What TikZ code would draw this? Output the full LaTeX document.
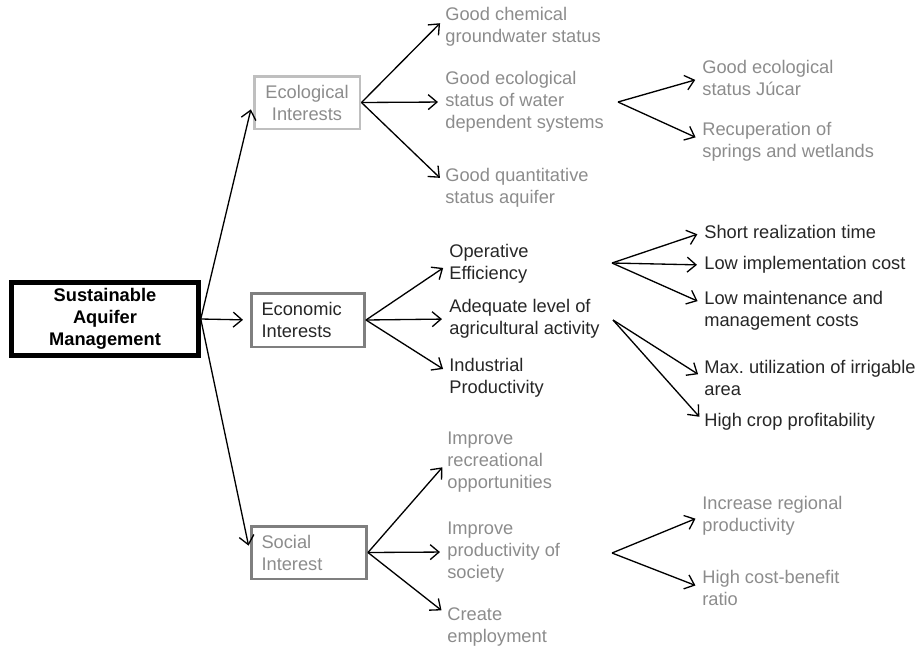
\documentclass[tikz,border=0pt]{standalone}
\usepackage{fontspec}
\setmainfont{Liberation Sans}
\usepackage{xcolor}
\usepackage{tikz}
\usetikzlibrary{positioning,arrows.meta,calc}
\definecolor{pale}{HTML}{8C8C8C}
\definecolor{dark}{HTML}{262626}
\definecolor{lframe}{HTML}{BFBFBF}
\definecolor{mframe}{HTML}{7F7F7F}
\tikzset{
  txt/.style={anchor=west,inner sep=0pt,align=left,font=\fontsize{10.4}{12.5}\selectfont},
  gtxt/.style={txt,text=pale},
  btxt/.style={txt,text=dark},
  crit/.style={draw,font=\fontsize{10.4}{12.5}\selectfont},
  arr/.style={-{Straight Barb[length=5pt,width=8.5pt]},line width=0.75pt,black,shorten >=4pt},
}
\begin{document}
\begin{tikzpicture}[x=0.02cm,y=-0.02cm]
\useasboundingbox (0,0) rectangle (915,649);
\node[crit,line width=2.6pt,minimum width=3.74cm,minimum height=1.42cm,align=center,font=\fontsize{10.4}{12.5}\selectfont\bfseries] (sam) at (105,319) {Sustainable\\Aquifer\\Management};
\node[crit,draw=lframe,text=pale,line width=1.7pt,minimum width=2.12cm,minimum height=1.06cm,align=center] (eco) at (307,102.5) {Ecological\\Interests};
\node[crit,draw=mframe,text=dark,line width=1.7pt,text width=1.86cm,inner xsep=0.2cm,minimum height=1.08cm,align=left] (econ) at (308,320) {Economic\\Interests};
\node[crit,draw=mframe,text=pale,line width=1.7pt,text width=1.9cm,inner xsep=0.2cm,minimum height=1.06cm,align=left] (soc) at (309,552.5) {Social\\Interest};

\node[gtxt] (chem) at (445,27) {Good chemical\\groundwater status};
\node[gtxt] (ecost) at (445,102) {Good ecological\\status of water\\dependent systems};
\node[gtxt] (quant) at (445,188) {Good quantitative\\status aquifer};
\node[gtxt] (jucar) at (702,78) {Good ecological\\status Júcar};
\node[gtxt] (recup) at (702,142) {Recuperation of\\springs and wetlands};

\node[btxt] (oper) at (449,264) {Operative\\Efficiency};
\node[btxt] (agri) at (449,319) {Adequate level of\\agricultural activity};
\node[btxt] (indu) at (449,378) {Industrial\\Productivity};
\node[btxt] (short) at (704,232) {Short realization time};
\node[btxt] (impl) at (704,265) {Low implementation cost};
\node[btxt] (maint) at (704,311) {Low maintenance and\\management costs};
\node[btxt] (irrig) at (704,378) {Max.\ utilization of irrigable\\area};
\node[btxt] (crop) at (704,422) {High crop profitability};

\node[gtxt] (recr) at (447,462) {Improve\\recreational\\opportunities};
\node[gtxt] (prod) at (447,552) {Improve\\productivity of\\society};
\node[gtxt] (empl) at (447,627) {Create\\employment};
\node[gtxt] (regio) at (702,516) {Increase regional\\productivity};
\node[gtxt] (cost) at (702,588) {High cost-benefit\\ratio};

\coordinate (f1) at (618,102);
\coordinate (f2) at (612,263);
\coordinate (f3) at (613,320);
\coordinate (f4) at (612,553);

\draw[arr] (sam.east) -- (eco.west);
\draw[arr] (sam.east) -- (econ.west);
\draw[arr] (sam.east) -- (soc.west);

\draw[arr] (eco.east) -- ([yshift=5pt]chem.west);
\draw[arr] (eco.east) -- (ecost.west);
\draw[arr] (eco.east) -- ([yshift=3pt]quant.west);
\draw[arr] (f1) -- (jucar.west);
\draw[arr] (f1) -- ([yshift=1pt]recup.west);

\draw[arr] (econ.east) -- (oper.west);
\draw[arr] (econ.east) -- (agri.west);
\draw[arr] (econ.east) -- ([yshift=3pt]indu.west);
\draw[arr] (f2) -- (short.west);
\draw[arr] (f2) -- (impl.west);
\draw[arr] (f2) -- ([yshift=4pt]maint.west);
\draw[arr] (f3) -- (irrig.west);
\draw[arr] (f3) -- (crop.west);

\draw[arr] (soc.east) -- (recr.west);
\draw[arr] (soc.east) -- (prod.west);
\draw[arr] (soc.east) -- ([yshift=7pt]empl.west);
\draw[arr] (f4) -- (regio.west);
\draw[arr] (f4) -- (cost.west);
\end{tikzpicture}
\end{document}
